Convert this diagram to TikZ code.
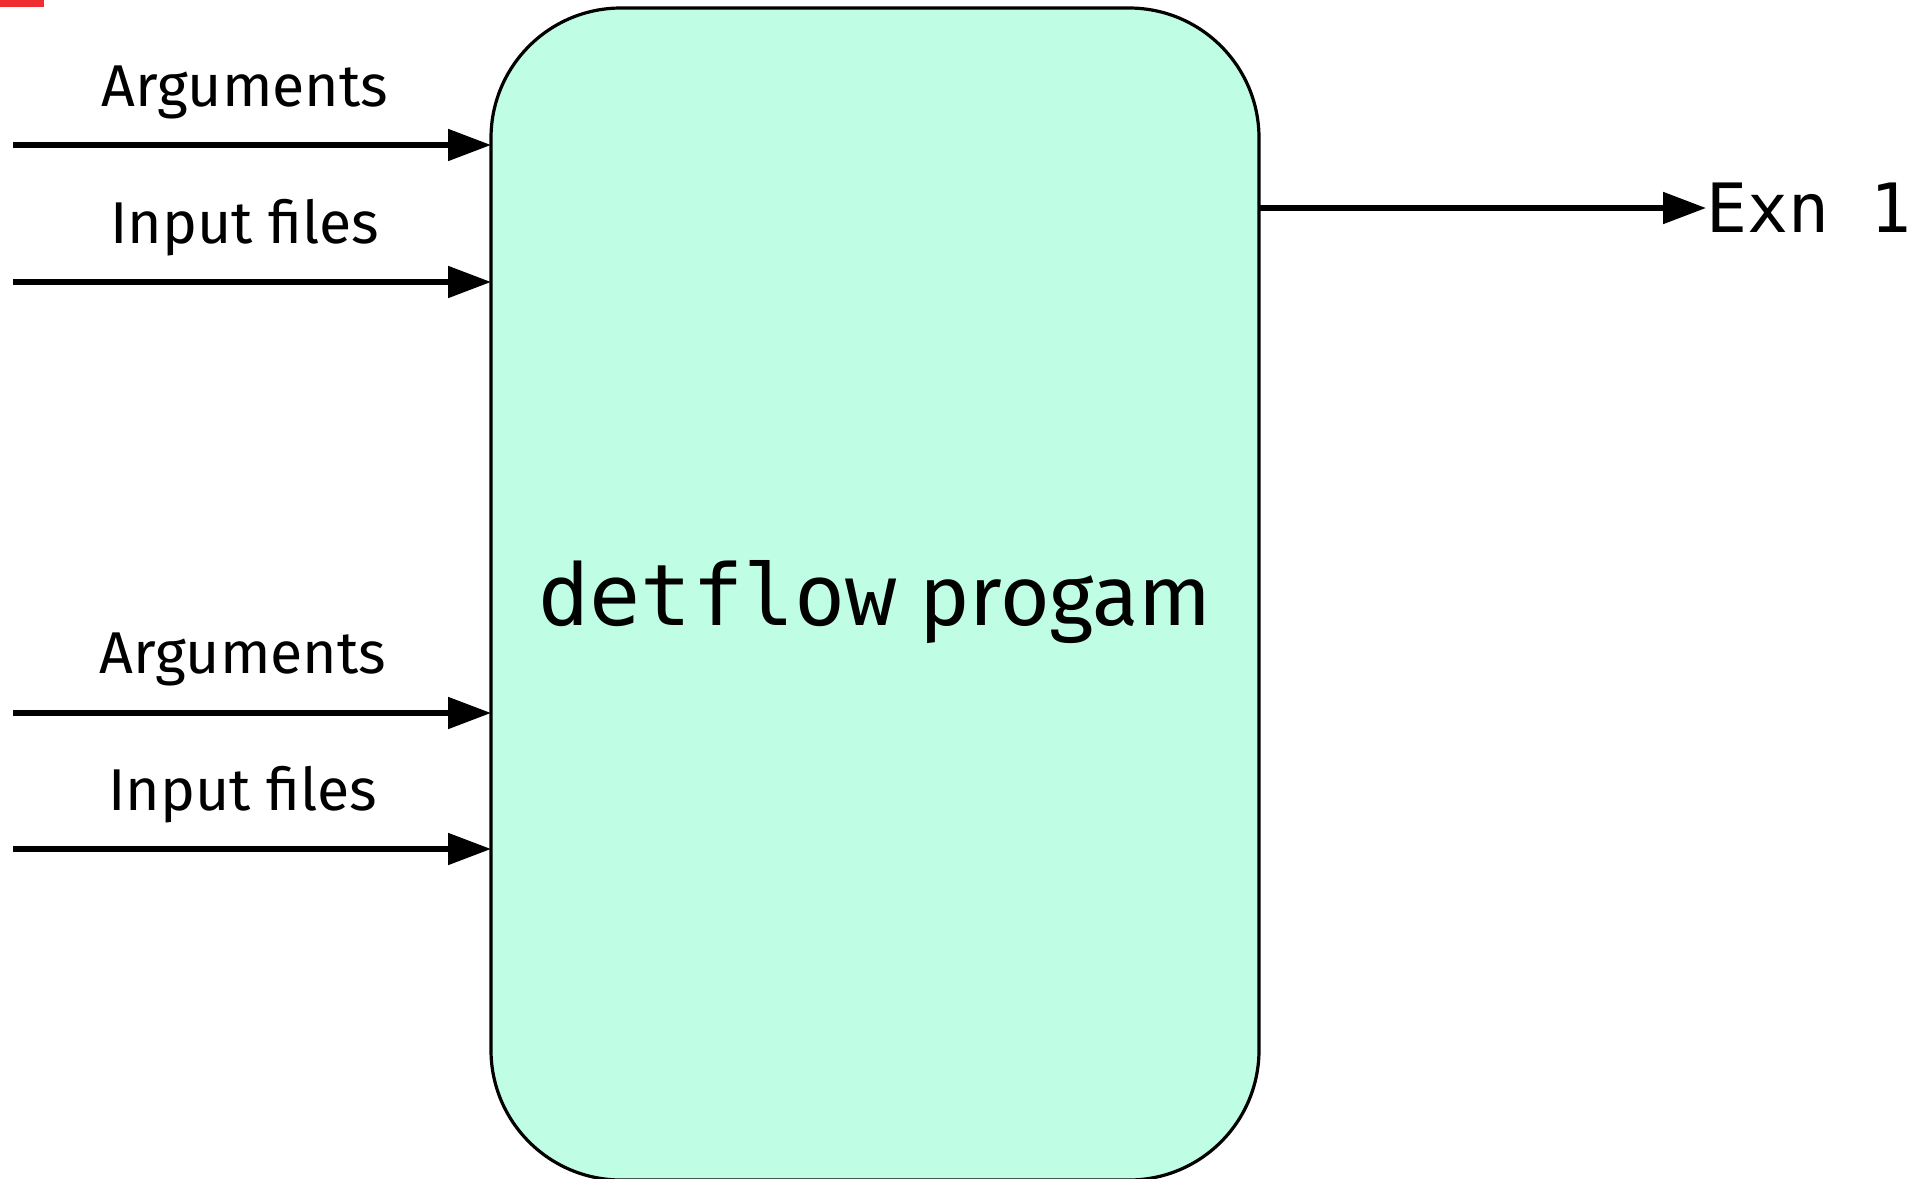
\documentclass[tikz,border=0pt]{standalone}
\usepackage{fontspec}
\setmainfont{Fira Sans}
\setmonofont{DejaVu Sans Mono}
\usetikzlibrary{arrows.meta}

\definecolor{mint}{RGB}{191,253,228}
\definecolor{markred}{RGB}{238,46,49}

\tikzset{
  flowarrow/.style={line width=2.6pt, -{Triangle[length=21.5pt,width=15.5pt]}},
  inlabel/.style={anchor=base, inner sep=0pt, font=\fontsize{29.5}{35}\selectfont},
  progbox/.style={draw=black, line width=1.6pt, fill=mint, rounded corners=65pt,
    minimum width=384pt, minimum height=586pt, inner sep=0pt, outer sep=0pt},
}

\begin{document}
\begin{tikzpicture}[x=0.5pt, y=-0.5pt]
  \useasboundingbox (0,0) rectangle (1922,1178);

  % small corner mark
  \fill[markred] (0,0) rectangle (44,7);

  % the program block
  \node[progbox] (prog) at (875,594) {};
  \node[anchor=base, inner sep=0pt, font=\fontsize{42.5}{50}\selectfont] (progtext) at (875,625)
    {\texttt{detflow} progam};

  % free ends of the incoming arrows
  \coordinate (in1) at (13,145);
  \coordinate (in2) at (13,282);
  \coordinate (in3) at (13,713);
  \coordinate (in4) at (13,849);

  \draw[flowarrow] (in1) -- (in1 -| prog.west);
  \draw[flowarrow] (in2) -- (in2 -| prog.west);
  \draw[flowarrow] (in3) -- (in3 -| prog.west);
  \draw[flowarrow] (in4) -- (in4 -| prog.west);

  \node[inlabel] (arg1) at (245,106) {Arguments};
  \node[inlabel] (inp1) at (245,243) {Input files};
  \node[inlabel] (arg2) at (243,673) {Arguments};
  \node[inlabel] (inp2) at (243,810) {Input files};

  % outgoing result
  \node[anchor=west, inner sep=0pt, font=\ttfamily\fontsize{34}{40}\selectfont] (exn) at (1706,208) {Exn 1};
  \coordinate (outstart) at (prog.east |- exn.west);
  \draw[flowarrow] (outstart) -- (exn.west);
\end{tikzpicture}
\end{document}
